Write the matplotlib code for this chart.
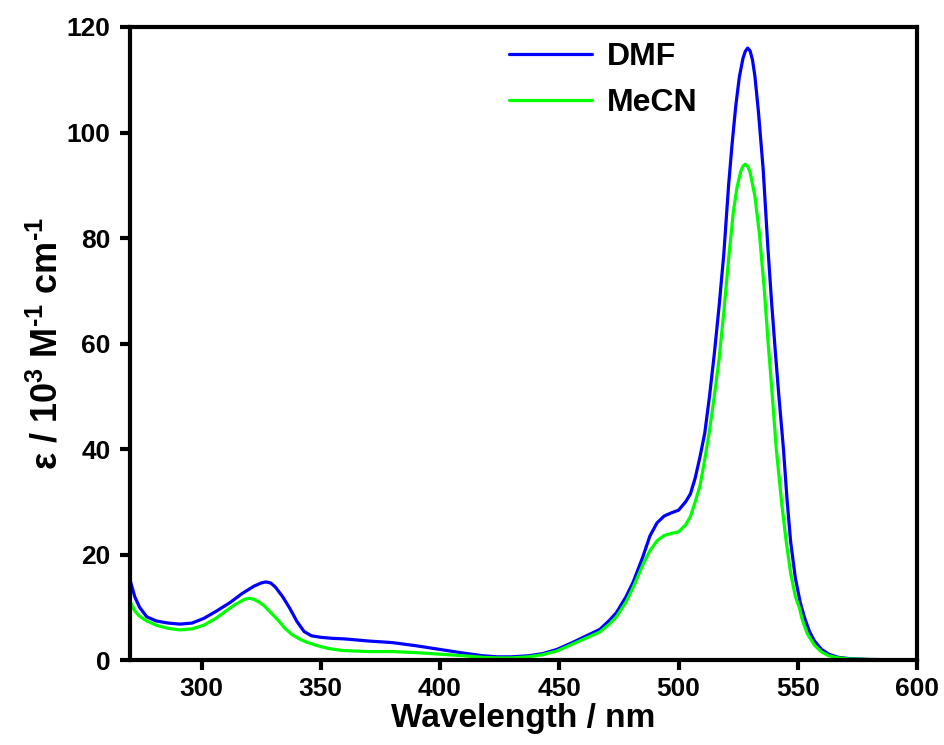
import matplotlib
matplotlib.use("Agg")
import matplotlib.pyplot as plt

plt.rcParams['font.family'] = ['Liberation Sans', 'DejaVu Sans']
plt.rcParams['font.weight'] = 'bold'
plt.rcParams['mathtext.fontset'] = 'custom'
plt.rcParams['mathtext.rm'] = 'Liberation Sans:bold'
plt.rcParams['mathtext.bf'] = 'Liberation Sans:bold'
plt.rcParams['mathtext.default'] = 'rm'
plt.rcParams['axes.unicode_minus'] = False

# DMF spectrum (wavelength nm, epsilon 10^3 M^-1 cm^-1)
dmf_x = [270, 272, 274, 277, 281, 286, 291, 296, 301, 306, 312, 317, 322, 325, 327, 329,
         331, 334, 337, 340, 343, 346, 350, 355, 360, 370, 380, 390, 400, 410, 418, 424,
         430, 437, 443, 449, 455, 461, 467, 471, 474, 478, 481, 485, 488, 491, 494, 497,
         500, 503, 505, 507, 509, 511, 513, 515, 517, 519, 521, 522.5, 524, 525.5, 527,
         528, 529, 530, 531, 532, 533.5, 535.5, 537.5, 539, 540.5, 542, 544, 545.5, 547, 549, 551,
         553, 555, 557, 560, 563, 567, 572, 580, 590, 600]
dmf_y = [15.2, 12.0, 10.0, 8.2, 7.4, 7.0, 6.8, 7.0, 7.9, 9.2, 10.9, 12.6, 14.0, 14.6, 14.8, 14.6,
         13.8, 12.0, 9.8, 7.3, 5.4, 4.6, 4.3, 4.1, 4.0, 3.6, 3.3, 2.7, 2.0, 1.3, 0.8, 0.6,
         0.6, 0.8, 1.2, 2.0, 3.2, 4.5, 5.8, 7.5, 9.0, 12.0, 14.8, 19.5, 23.5, 26.0, 27.3, 27.9,
         28.4, 30.0, 31.5, 34.5, 38.5, 43.0, 50.0, 58.0, 67.0, 77.0, 90.0, 98.0, 105.0, 110.5, 114.0,
         115.4, 116.0, 115.5, 113.8, 110.8, 104.0, 93.0, 78.0, 68.0, 59.0, 50.5, 40.0, 30.5, 22.5, 15.5, 11.0,
         7.8, 5.3, 3.6, 2.0, 1.1, 0.5, 0.25, 0.1, 0.05, 0.0]

# MeCN spectrum
mecn_x = [270, 272, 274, 277, 281, 286, 291, 296, 301, 306, 310, 314, 318, 320, 322, 324,
          326, 329, 332, 335, 338, 341, 344, 348, 353, 359, 370, 380, 390, 400, 410, 418, 424,
          430, 437, 443, 449, 455, 461, 467, 471, 474, 478, 481, 485, 488, 491, 494, 497,
          500, 503, 505, 507, 509, 511, 513, 515, 517, 519, 521, 523, 524.5, 526, 527, 528,
          529, 530, 532, 534, 536, 537.6, 539, 541, 543.2, 545, 547, 549, 550.6, 552, 554, 557,
          560, 563, 567, 572, 580, 590, 600]
mecn_y = [11.1, 9.3, 8.3, 7.4, 6.6, 6.0, 5.7, 5.9, 6.6, 7.9, 9.2, 10.5, 11.5, 11.7, 11.5, 11.0,
          10.4, 9.0, 7.6, 6.0, 4.8, 4.0, 3.4, 2.8, 2.2, 1.8, 1.6, 1.6, 1.4, 1.1, 0.8, 0.5, 0.4,
          0.4, 0.6, 1.0, 1.7, 2.9, 4.1, 5.3, 6.8, 8.2, 11.0, 13.8, 18.0, 20.7, 22.6, 23.6, 24.0,
          24.3, 25.6, 27.2, 30.0, 33.0, 38.0, 43.5, 50.0, 57.0, 66.0, 76.0, 85.0, 89.5, 92.5, 93.6, 94.0,
          93.6, 92.5, 88.0, 80.5, 70.0, 60.0, 52.0, 40.0, 30.0, 23.0, 16.5, 12.0, 10.0, 7.5, 5.0, 2.8,
          1.5, 0.8, 0.4, 0.2, 0.1, 0.05, 0.0]

fig = plt.figure(figsize=(9.44, 7.45), dpi=100)
ax = fig.add_axes([130/944, 1-660/745, 787/944, 633/745])

ax.plot(dmf_x, dmf_y, color='#0000ff', lw=2.3, label='DMF', solid_capstyle='round')
ax.plot(mecn_x, mecn_y, color='#00ff00', lw=2.3, label='MeCN', solid_capstyle='round')

ax.set_xlim(270, 600)
ax.set_ylim(0, 120)
ax.set_xticks([300, 350, 400, 450, 500, 550, 600])
ax.set_yticks([0, 20, 40, 60, 80, 100, 120])

for s in ax.spines.values():
    s.set_linewidth(3)
ax.tick_params(axis='both', direction='out', length=7, width=3, labelsize=19)
ax.tick_params(axis='y', pad=7)
ax.tick_params(axis='x', pad=5)
for lab in ax.get_xticklabels() + ax.get_yticklabels():
    lab.set_fontweight('bold')

ax.set_xlabel('Wavelength / nm', fontsize=24, fontweight='bold', labelpad=2)
ax.set_ylabel(r'ε / 10$^{3}$ M$^{\text{-1}}$ cm$^{\text{-1}}$', fontsize=26,
              fontweight='bold', labelpad=1)

leg = ax.legend(loc='upper left', bbox_to_anchor=(0.445, 1.022), frameon=False,
                prop={'size': 23, 'weight': 'bold'}, handlelength=2.6,
                handletextpad=0.45, labelspacing=0.5)

fig.savefig('out.png', dpi=100)
